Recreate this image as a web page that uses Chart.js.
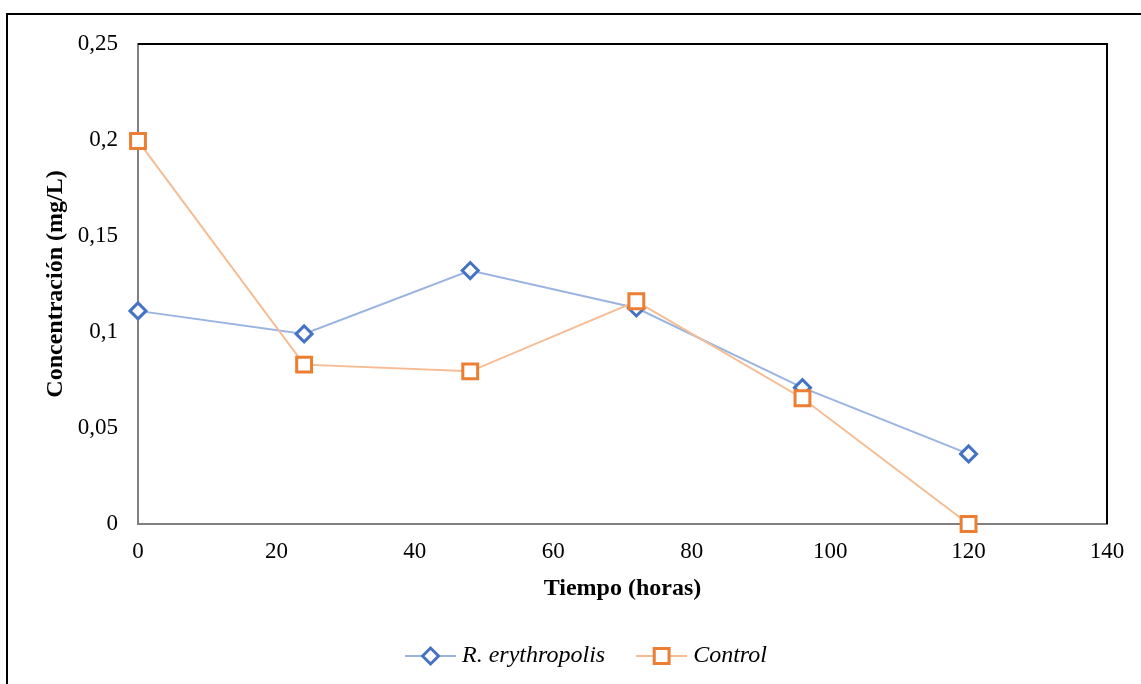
<!DOCTYPE html>
<html>
<head>
<meta charset="utf-8">
<script src="https://cdn.jsdelivr.net/npm/chart.js@4/dist/chart.umd.min.js"></script>
<style>
  html, body { margin: 0; padding: 0; background: #fff; }
  #wrap { position: relative; width: 1141px; height: 684px; }
</style>
</head>
<body>
<div id="wrap"><canvas id="c" width="1141" height="684"></canvas></div>
<script>
// Sampling times (hours)
const tiempo = [0, 24, 48, 72, 96, 120];
// Concentration (mg/L) per series
const rErythropolis = [0.111, 0.099, 0.132, 0.1125, 0.071, 0.0365];
const control = [0.1995, 0.083, 0.0795, 0.116, 0.0655, 0.0];
const seriesNames = ['R. erythropolis', 'Control'];

const yTickLabels = { 0: '0', 0.05: '0,05', 0.1: '0,1', 0.15: '0,15', 0.2: '0,2', 0.25: '0,25' };

const SERIF = '"Liberation Serif", "Times New Roman", serif';

const toPoints = (xs, ys) => xs.map((x, i) => ({ x, y: ys[i] }));

// Frame lines: outer border, plus black top/right edges of the plot area
const framePlugin = {
  id: 'frame',
  beforeDraw(chart) {
    const ctx = chart.ctx;
    ctx.save();
    ctx.fillStyle = '#fff';
    ctx.fillRect(0, 0, chart.width, chart.height);
    ctx.strokeStyle = '#000';
    ctx.lineWidth = 2;
    ctx.beginPath();
    ctx.moveTo(7, chart.height);
    ctx.lineTo(7, 14);
    ctx.lineTo(chart.width, 14);
    ctx.stroke();
    ctx.restore();
  },
  afterDatasetsDraw(chart) {
    const { ctx, chartArea: a } = chart;
    ctx.save();
    ctx.strokeStyle = '#000';
    ctx.lineWidth = 2;
    ctx.beginPath();
    ctx.moveTo(a.left, a.top);
    ctx.lineTo(a.right, a.top);
    ctx.lineTo(a.right, a.bottom);
    ctx.stroke();
    ctx.restore();
  }
};

// Legend with a line segment and the marker on it
const lineLegendPlugin = {
  id: 'lineLegend',
  afterDraw(chart) {
    const ctx = chart.ctx;
    const y = 656;
    const lineLen = 51, gapText = 6, gapItem = 31;
    ctx.save();
    ctx.font = 'italic 24px ' + SERIF;
    const items = chart.data.datasets.map(ds => ({ ds, w: lineLen + gapText + ctx.measureText(ds.label).width }));
    const total = items.reduce((s, it) => s + it.w, 0) + gapItem * (items.length - 1);
    let x = 586 - total / 2;
    items.forEach(({ ds }) => {
      ctx.strokeStyle = ds.borderColor;
      ctx.lineWidth = ds.borderWidth;
      ctx.beginPath();
      ctx.moveTo(x, y);
      ctx.lineTo(x + lineLen, y);
      ctx.stroke();
      ctx.fillStyle = '#fff';
      ctx.strokeStyle = ds.pointBorderColor;
      ctx.lineWidth = ds.pointBorderWidth;
      Chart.helpers.drawPoint(ctx, {
        pointStyle: ds.pointStyle,
        radius: ds.pointRadius,
        rotation: 0,
        borderWidth: ds.pointBorderWidth
      }, x + lineLen / 2, y);
      ctx.fillStyle = '#000';
      ctx.textBaseline = 'middle';
      ctx.textAlign = 'left';
      const tx = x + lineLen + gapText;
      ctx.fillText(ds.label, tx, y);
      x = tx + ctx.measureText(ds.label).width + gapItem;
    });
    ctx.restore();
  }
};

new Chart(document.getElementById('c'), {
  type: 'line',
  data: {
    datasets: [
      {
        label: seriesNames[0],
        data: toPoints(tiempo, rErythropolis),
        borderColor: '#9AB4E2',
        borderWidth: 2,
        pointStyle: 'rectRot',
        pointRadius: 8,
        pointBorderWidth: 3,
        pointBorderColor: '#4472C4',
        pointBackgroundColor: '#fff',
        tension: 0,
        clip: false,
        order: 1
      },
      {
        label: seriesNames[1],
        data: toPoints(tiempo, control),
        borderColor: '#F6BC94',
        borderWidth: 2,
        pointStyle: 'rect',
        pointRadius: 10.5,
        pointBorderWidth: 3,
        pointBorderColor: '#ED7D31',
        pointBackgroundColor: '#fff',
        tension: 0,
        clip: false,
        order: 0
      }
    ]
  },
  options: {
    responsive: false,
    animation: false,
    layout: { padding: { left: 0, top: 44, right: 34, bottom: 60 } },
    plugins: {
      legend: { display: false },
      tooltip: { enabled: false }
    },
    scales: {
      x: {
        type: 'linear',
        min: 0,
        max: 140,
        ticks: {
          stepSize: 20,
          color: '#000',
          font: { family: SERIF, size: 23 },
          padding: 14,
          maxRotation: 0
        },
        grid: { display: false, drawTicks: false },
        border: { display: true, color: '#808080', width: 2 },
        title: {
          display: true,
          text: 'Tiempo (horas)',
          color: '#000',
          font: { family: SERIF, size: 24, weight: 'bold' },
          padding: { top: 0, bottom: 21 }
        },
        afterFit(scale) { scale.height = 100; }
      },
      y: {
        type: 'linear',
        min: 0,
        max: 0.25,
        ticks: {
          stepSize: 0.05,
          color: '#000',
          font: { family: SERIF, size: 23 },
          padding: 20,
          callback: v => yTickLabels[Math.round(v * 100) / 100] ?? ''
        },
        grid: { display: false, drawTicks: false },
        border: { display: true, color: '#808080', width: 2 },
        title: {
          display: true,
          text: 'Concentración (mg/L)',
          color: '#000',
          font: { family: SERIF, size: 24, weight: 'bold' },
          padding: { top: 41, bottom: 0 }
        },
        afterFit(scale) { scale.width = 138; }
      }
    }
  },
  plugins: [framePlugin, lineLegendPlugin]
});
</script>
</body>
</html>
